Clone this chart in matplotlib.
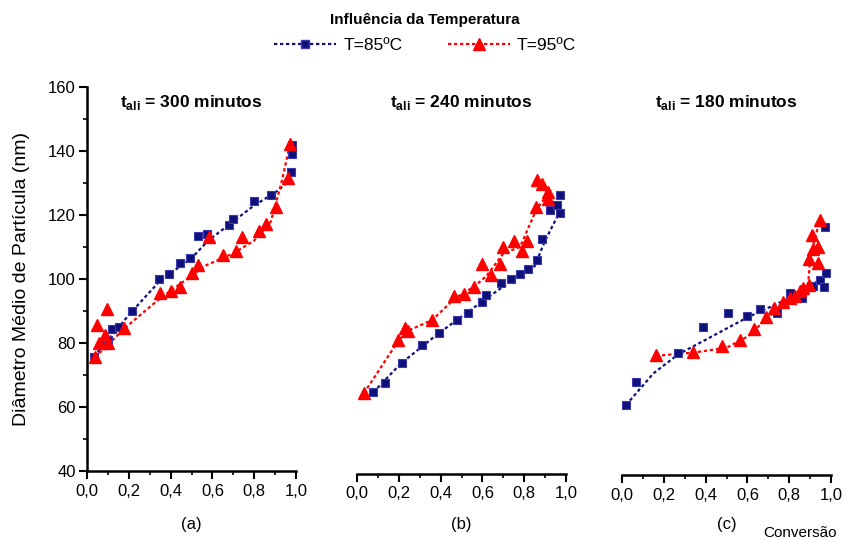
import matplotlib
matplotlib.use("Agg")
import matplotlib.pyplot as plt
from matplotlib.ticker import MultipleLocator, FuncFormatter
from matplotlib.lines import Line2D

plt.rcParams['font.family'] = ['Liberation Sans', 'DejaVu Sans']
plt.rcParams['mathtext.fontset'] = 'custom'
plt.rcParams['mathtext.rm'] = 'Liberation Sans'
plt.rcParams['mathtext.bf'] = 'Liberation Sans:bold'

# ---- data: panel (a) t_ali = 300 min ----
a85_x = [0.033, 0.08, 0.10, 0.118, 0.155, 0.214, 0.346, 0.394, 0.445, 0.493, 0.533, 0.576,
         0.681, 0.70, 0.80, 0.88, 0.975, 0.98, 0.98]
a85_y = [75.7, 79.5, 81.0, 84.3, 85.1, 90.1, 99.9, 101.6, 105.1, 106.5, 113.4, 114.0,
         116.8, 118.6, 124.3, 126.1, 133.3, 139.0, 141.9]
a95_x = [0.038, 0.05, 0.059, 0.086, 0.094, 0.10, 0.177, 0.349, 0.40, 0.445, 0.50, 0.533,
         0.585, 0.649, 0.713, 0.74, 0.825, 0.856, 0.904, 0.963, 0.971]
a95_y = [75.7, 85.6, 79.9, 82.5, 90.5, 79.9, 84.6, 95.5, 96.4, 97.4, 102.0, 104.4,
         113.2, 107.5, 108.8, 113.0, 115.1, 117.1, 122.6, 131.5, 142.2]
a85_fit_x = [0.033, 0.12, 0.21, 0.35, 0.50, 0.58, 0.70, 0.80, 0.90, 0.975]
a85_fit_y = [75.7, 82.5, 89.5, 99.5, 106.5, 112.0, 118.0, 123.0, 127.0, 131.0]
a95_fit_x = [0.038, 0.18, 0.35, 0.50, 0.56, 0.70, 0.80, 0.88, 0.93, 0.971]
a95_fit_y = [75.5, 84.6, 94.0, 101.0, 104.0, 108.0, 112.0, 118.0, 130.0, 142.0]

# ---- data: panel (b) t_ali = 240 min ----
b85_x = [0.078, 0.134, 0.214, 0.31, 0.39, 0.477, 0.533, 0.597, 0.617, 0.688, 0.735, 0.78,
         0.82, 0.86, 0.884, 0.923, 0.958, 0.97, 0.97]
b85_y = [64.6, 67.6, 73.6, 79.4, 83.0, 87.2, 89.3, 92.9, 95.0, 98.6, 99.9, 101.6,
         103.0, 105.9, 112.4, 121.6, 123.1, 120.5, 126.2]
b95_x = [0.033, 0.198, 0.23, 0.245, 0.357, 0.464, 0.512, 0.56, 0.597, 0.64, 0.684, 0.70,
         0.751, 0.788, 0.812, 0.855, 0.86, 0.884, 0.915, 0.915]
b95_y = [64.3, 80.9, 84.6, 83.8, 87.2, 94.7, 95.2, 97.6, 104.7, 101.2, 104.7, 109.9,
         112.0, 108.8, 112.0, 122.4, 130.9, 129.7, 127.3, 124.9]
b85_fit_x = [0.078, 0.21, 0.39, 0.60, 0.75, 0.85, 0.90, 0.97]
b85_fit_y = [64.6, 73.6, 83.0, 93.0, 100.0, 104.0, 112.0, 121.0]
b95_fit_x = [0.033, 0.20, 0.25, 0.36, 0.47, 0.56, 0.62, 0.70, 0.78, 0.86, 0.92]
b95_fit_y = [64.3, 80.9, 84.0, 87.2, 94.0, 97.6, 101.0, 108.0, 110.0, 122.0, 127.0]

# ---- data: panel (c) t_ali = 180 min ----
c85_x = [0.019, 0.067, 0.27, 0.386, 0.509, 0.597, 0.66, 0.74, 0.804, 0.86, 0.915, 0.947,
         0.976, 0.967, 0.971]
c85_y = [60.6, 67.9, 76.8, 85.1, 89.3, 88.4, 90.5, 89.5, 95.5, 94.0, 97.8, 99.7,
         102.0, 97.4, 116.2]
c95_x = [0.163, 0.338, 0.477, 0.565, 0.632, 0.687, 0.727, 0.768, 0.804, 0.828, 0.852, 0.868,
         0.896, 0.896, 0.915, 0.94, 0.908, 0.94, 0.947]
c95_y = [76.2, 77.3, 79.1, 80.9, 84.3, 88.2, 90.8, 92.9, 94.0, 94.7, 96.3, 97.1,
         98.1, 106.2, 109.3, 109.9, 113.7, 104.9, 118.5]
c85_fit_x = [0.019, 0.15, 0.27, 0.40, 0.60, 0.80, 0.90, 0.976]
c85_fit_y = [60.6, 70.5, 76.5, 81.0, 88.0, 94.0, 97.5, 101.5]
c95_fit_x = [0.163, 0.34, 0.50, 0.60, 0.75, 0.85, 0.89, 0.90, 0.92, 0.947]
c95_fit_y = [76.0, 77.0, 78.5, 82.0, 91.0, 96.0, 98.0, 106.0, 112.0, 118.5]

titles_t = ["300", "240", "180"]
panel_labels = ["(a)", "(b)", "(c)"]

BLUE = "#10107a"
RED = "#ff0000"

fig = plt.figure(figsize=(8.47, 5.40), dpi=100)
lefts = [87 / 847, 357 / 847, 622 / 847]
W = 209 / 847
B = 1 - 471 / 540
H = 384 / 540
bottom_offsets = [0, 2, 3]

panels = [
    (a85_x, a85_y, a95_x, a95_y, a85_fit_x, a85_fit_y, a95_fit_x, a95_fit_y),
    (b85_x, b85_y, b95_x, b95_y, b85_fit_x, b85_fit_y, b95_fit_x, b95_fit_y),
    (c85_x, c85_y, c95_x, c95_y, c85_fit_x, c85_fit_y, c95_fit_x, c95_fit_y),
]

comma = FuncFormatter(lambda v, p: f"{v:.1f}".replace(".", ","))

for i, (p, left) in enumerate(zip(panels, lefts)):
    ax = fig.add_axes([left, B, W, H])
    bx, by, rx, ry, bfx, bfy, rfx, rfy = p
    ax.plot(bfx, bfy, color=BLUE, lw=1.6, ls=(0, (1.5, 1.2)), zorder=2)
    ax.plot(rfx, rfy, color=RED, lw=1.6, ls=(0, (1.5, 1.2)), zorder=2)
    ax.plot(bx, by, ls='none', marker='s', ms=6, mfc=BLUE, mec='#3a3ab0', mew=0.8, zorder=3)
    ax.plot(rx, ry, ls='none', marker='^', ms=9, mfc=RED, mec=RED, zorder=4)
    ax.set_xlim(0, 1.0)
    ax.set_ylim(40, 160)
    ax.spines['top'].set_visible(False)
    ax.spines['right'].set_visible(False)
    ax.spines['bottom'].set_linewidth(1.8)
    ax.spines['bottom'].set_position(('outward', bottom_offsets[i]))
    ax.xaxis.set_major_locator(MultipleLocator(0.2))
    ax.xaxis.set_minor_locator(MultipleLocator(0.1))
    ax.xaxis.set_major_formatter(comma)
    ax.tick_params(axis='x', which='major', direction='out', length=6, width=1.5,
                   labelsize=12, pad=3)
    ax.tick_params(axis='x', which='minor', direction='out', length=3, width=1.2)
    if i == 0:
        ax.spines['left'].set_linewidth(1.8)
        ax.yaxis.set_major_locator(MultipleLocator(20))
        ax.yaxis.set_minor_locator(MultipleLocator(10))
        ax.tick_params(axis='y', which='major', direction='out', length=6, width=1.5,
                       labelsize=12, pad=2)
        ax.tick_params(axis='y', which='minor', direction='out', length=3, width=1.2)
    else:
        ax.spines['left'].set_visible(False)
        ax.tick_params(axis='y', which='both', left=False, labelleft=False)
    ax.set_facecolor('none')
    ax.text(0.5, 0.96, r"$\mathbf{t}_{\mathbf{ali}}$ = " + titles_t[i] + " minutos",
            transform=ax.transAxes, ha='center', va='center', fontsize=12.5,
            fontweight='bold')
    ax.text(0.5, -0.14, panel_labels[i], transform=ax.transAxes, ha='center',
            va='center', fontsize=12)

fig.text(22 / 847, 1 - 279 / 540, "Diâmetro Médio de Partícula (nm)", rotation=90,
         ha='center', va='center', fontsize=14)
fig.text(800 / 847, 1 - 533 / 540, "Conversão", ha='center', va='center', fontsize=11)

handles = [
    Line2D([], [], color=BLUE, lw=1.6, ls=(0, (1.5, 1.2)), marker='s', ms=6, mfc=BLUE,
           mec='#3a3ab0'),
    Line2D([], [], color=RED, lw=1.6, ls=(0, (1.5, 1.2)), marker='^', ms=9, mfc=RED,
           mec=RED),
]
leg = fig.legend(handles, ["T=85ºC", "T=95ºC"], loc='center', ncol=2,
                 bbox_to_anchor=(425 / 847, 1 - 33 / 540), frameon=False, fontsize=12.5,
                 title="Influência da Temperatura", handlelength=3.6, columnspacing=2.6,
                 handletextpad=0.4, borderpad=0.1, labelspacing=0.2)
leg.get_title().set_fontweight('bold')
leg.get_title().set_fontsize(11)
leg._legend_box.sep = 8

fig.savefig("out.png", dpi=100)
